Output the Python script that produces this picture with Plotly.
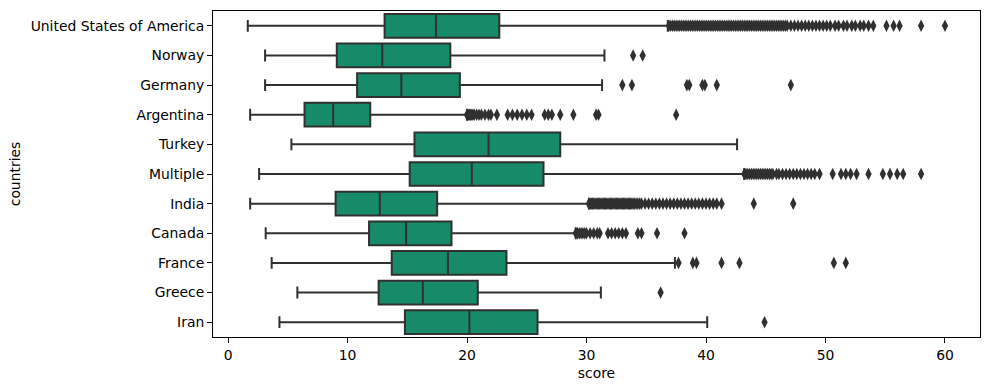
import plotly.graph_objects as go

countries = ["United States of America", "Norway", "Germany", "Argentina", "Turkey",
             "Multiple", "India", "Canada", "France", "Greece", "Iran"]
lower_whisker = [1.65, 3.1, 3.1, 1.85, 5.3, 2.6, 1.85, 3.15, 3.65, 5.8, 4.3]
q1 = [13.1, 9.1, 10.8, 6.4, 15.6, 15.2, 9.0, 11.8, 13.7, 12.6, 14.8]
median = [17.4, 12.9, 14.5, 8.8, 21.8, 20.4, 12.7, 14.9, 18.4, 16.3, 20.2]
q3 = [22.7, 18.6, 19.4, 11.9, 27.8, 26.4, 17.5, 18.7, 23.3, 20.9, 25.9]
upper_whisker = [36.8, 31.5, 31.3, 20.0, 42.6, 43.2, 30.2, 29.1, 37.4, 31.2, 40.1]

out_usa = [36.9, 37.05, 37.2, 37.35, 37.5, 37.65, 37.8, 37.95, 38.1, 38.25, 38.4, 38.55,
           38.7, 38.85, 39.0, 39.15, 39.3, 39.45, 39.6, 39.75, 39.9, 40.05, 40.2, 40.35,
           40.5, 40.65, 40.8, 40.95, 41.1, 41.25, 41.4, 41.55, 41.7, 41.85, 42.0, 42.15,
           42.3, 42.45, 42.6, 42.75, 42.9, 43.05, 43.2, 43.35, 43.5, 43.65, 43.8, 43.95,
           44.1, 44.25, 44.4, 44.55, 44.7, 44.85, 45.0, 45.15, 45.3, 45.45, 45.6, 45.75,
           45.9, 46.05, 46.2, 46.35, 46.5, 46.65, 46.8, 47.1, 47.4, 47.7, 48.0, 48.3,
           48.6, 48.9, 49.2, 49.5, 49.8, 50.1, 50.4, 50.8, 51.1, 51.5, 51.8, 52.2, 52.5,
           52.9, 53.2, 53.6, 54.0, 55.1, 55.7, 56.2, 58.0, 60.0]
out_norway = [33.9, 34.7]
out_germany = [33.0, 33.8, 38.4, 38.6, 39.7, 39.9, 40.9, 47.1]
out_argentina = [20.0, 20.1, 20.2, 20.3, 20.4, 20.5, 20.6, 20.8, 21.0, 21.2, 21.5, 21.8,
                 22.0, 22.5, 23.4, 23.8, 24.2, 24.6, 25.0, 25.4, 26.5, 26.8, 27.1, 27.8,
                 28.9, 30.8, 31.0, 37.5]
out_turkey = []
out_multiple = [43.2, 43.35, 43.5, 43.65, 43.8, 43.95, 44.1, 44.25, 44.4, 44.55, 44.7,
                44.85, 45.0, 45.15, 45.3, 45.45, 45.6, 45.9, 46.1, 46.4, 46.7, 47.0, 47.3,
                47.6, 47.9, 48.2, 48.5, 48.8, 49.1, 49.5, 50.6, 51.3, 51.7, 52.1, 52.6,
                53.6, 54.8, 55.4, 56.0, 56.5, 58.0]
out_india = [30.2, 30.3, 30.4, 30.5, 30.6, 30.7, 30.8, 30.9, 31.0, 31.1, 31.2, 31.3, 31.4,
             31.5, 31.6, 31.7, 31.8, 31.9, 32.0, 32.1, 32.2, 32.3, 32.4, 32.5, 32.6, 32.7,
             32.8, 32.9, 33.0, 33.1, 33.2, 33.3, 33.4, 33.5, 33.6, 33.7, 33.8, 33.9, 34.0,
             34.15, 34.3, 34.45, 34.6, 34.9, 35.2, 35.5, 35.8, 36.1, 36.4, 36.7, 37.0,
             37.3, 37.6, 37.9, 38.2, 38.5, 38.8, 39.1, 39.4, 39.7, 40.0, 40.3, 40.6, 40.9,
             41.3, 44.0, 47.3]
out_canada = [29.1, 29.25, 29.4, 29.55, 29.7, 29.85, 30.0, 30.3, 30.6, 30.9, 31.1, 31.8,
              32.1, 32.4, 32.7, 33.0, 33.3, 34.3, 34.6, 35.9, 38.2]
out_france = [37.7, 38.9, 39.2, 41.3, 42.8, 50.7, 51.7]
out_greece = [36.2]
out_iran = [44.9]

outliers = [out_usa, out_norway, out_germany, out_argentina, out_turkey, out_multiple,
            out_india, out_canada, out_france, out_greece, out_iran]

x_ticks = [0, 10, 20, 30, 40, 50, 60]

BOX_FILL = "#168a69"
EDGE = "#303030"
FONT = "DejaVu Sans"

fig = go.Figure()
fig.add_trace(go.Box(
    y=countries, q1=q1, median=median, q3=q3,
    lowerfence=lower_whisker, upperfence=upper_whisker,
    orientation="h", boxpoints=False, width=0.8, whiskerwidth=0.5,
    fillcolor=BOX_FILL, line=dict(color=EDGE, width=2),
    showlegend=False, hoverinfo="skip",
))

ox, oy = [], []
for c, vals in zip(countries, outliers):
    for v in vals:
        ox.append(v)
        oy.append(c)
fig.add_trace(go.Scatter(
    x=ox, y=oy, mode="markers",
    marker=dict(symbol="diamond-tall", size=9, color=EDGE, line=dict(width=0)),
    showlegend=False, hoverinfo="skip",
))

axis_common = dict(
    showline=True, mirror=True, linecolor="black", linewidth=1,
    ticks="outside", ticklen=5, tickwidth=1, tickcolor="black",
    showgrid=False, zeroline=False, automargin=False,
    tickfont=dict(family=FONT, size=13.9, color="black"),
)

fig.update_layout(
    width=989, height=390,
    margin=dict(l=213, r=9, t=11, b=53),
    plot_bgcolor="white", paper_bgcolor="white",
    font=dict(family=FONT, size=13.9, color="black"),
    xaxis=dict(range=[-1.26, 62.93], tickvals=x_ticks, ticktext=[str(t) for t in x_ticks],
               title=dict(text="score", font=dict(family=FONT, size=13.9, color="black"),
                          standoff=6),
               **axis_common),
    yaxis=dict(type="category", categoryorder="array", categoryarray=countries,
               range=[10.5, -0.5],
               title=dict(text="countries", font=dict(family=FONT, size=13.9, color="black"),
                          standoff=6),
               **axis_common),
)

fig.write_html("out.html", config={"displayModeBar": False},
               post_script="document.body.style.margin='0';")
